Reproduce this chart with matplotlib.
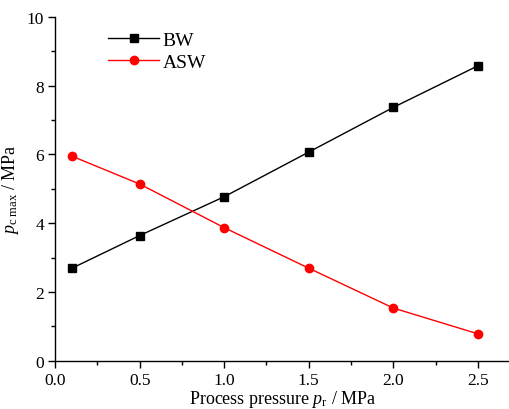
import matplotlib
matplotlib.use("Agg")
import matplotlib.pyplot as plt
from matplotlib.ticker import MultipleLocator

plt.rcParams['font.family'] = ['Liberation Serif', 'DejaVu Serif']
plt.rcParams['mathtext.fontset'] = 'custom'
plt.rcParams['mathtext.rm'] = 'Liberation Serif'
plt.rcParams['mathtext.it'] = 'Liberation Serif:italic'

pressure = [0.1, 0.5, 1.0, 1.5, 2.0, 2.5]
bw = [2.69, 3.64, 4.77, 6.07, 7.37, 8.58]
asw = [5.95, 5.14, 3.87, 2.69, 1.53, 0.78]

fig = plt.figure(figsize=(5.1, 4.1), dpi=100)
ax = fig.add_axes([0.108, 0.118, 0.892, 0.838])

ax.plot(pressure, bw, color='black', marker='s', markersize=6, linewidth=1, label='BW')
ax.plot(pressure, asw, color='red', marker='o', markersize=6, linewidth=1, label='ASW')

ax.set_xlim(0, 2.69)
ax.set_ylim(0, 10)
ax.xaxis.set_major_locator(MultipleLocator(0.5))
ax.xaxis.set_minor_locator(MultipleLocator(0.25))
ax.yaxis.set_major_locator(MultipleLocator(2))
ax.yaxis.set_minor_locator(MultipleLocator(1))
ax.xaxis.set_major_formatter(matplotlib.ticker.FormatStrFormatter('%.1f'))
ax.spines['top'].set_visible(False)
ax.spines['right'].set_visible(False)
for s in ['left', 'bottom']:
    ax.spines[s].set_linewidth(1.0)
ax.tick_params(which='major', direction='out', length=5, width=1, labelsize=12.5, pad=3)
ax.tick_params(which='minor', direction='out', length=3, width=1)

ax.set_xlabel(r'Process pressure $p_{\mathrm{r}}$ / MPa', fontsize=13, labelpad=0)
ax.set_ylabel(r'$p_{\mathrm{c\ max}}$ / MPa', fontsize=13, labelpad=4)

ax.legend(loc='upper left', bbox_to_anchor=(0.1, 0.98), frameon=False, fontsize=14,
          handlelength=2.6, handletextpad=0.2, labelspacing=0.2, borderaxespad=0)

fig.savefig('out.png', dpi=100)
